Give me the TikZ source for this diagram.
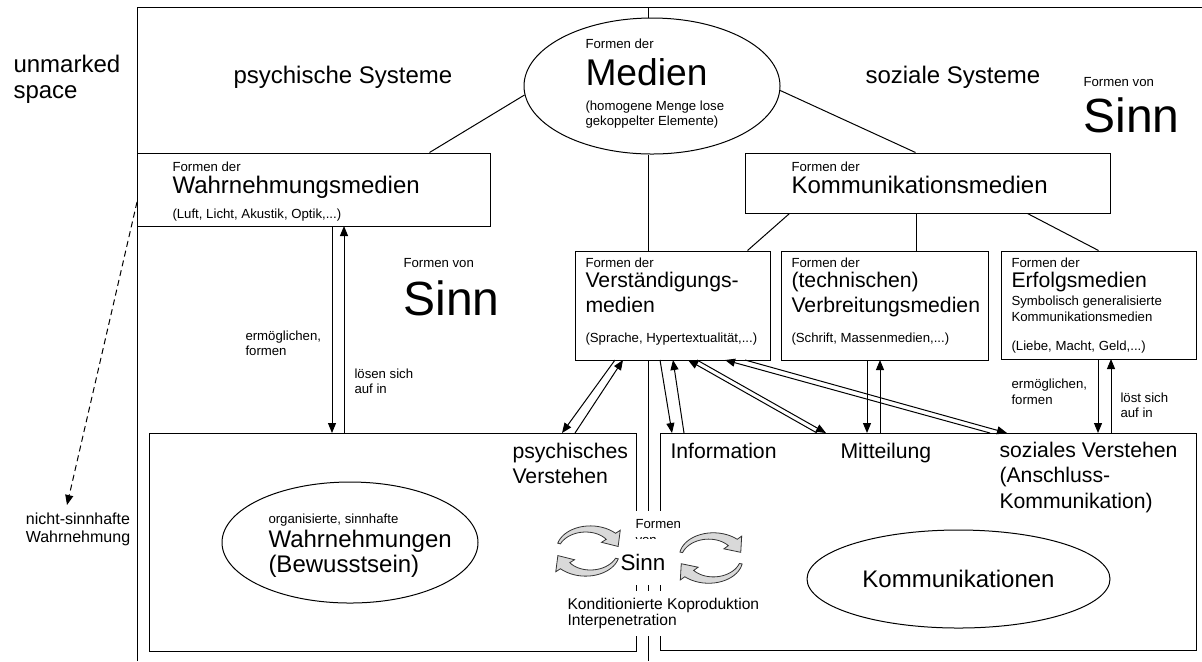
\documentclass[tikz,border=0pt]{standalone}
\usepackage{fontspec}
\setmainfont{Liberation Sans}
\usepackage{tikz}
\usetikzlibrary{arrows.meta,shapes}
\tikzstyle{box}=[draw,rectangle,inner sep=0pt]
\tikzstyle{oval}=[draw,ellipse,inner sep=0pt]
\tikzstyle{txt}=[anchor=base west,inner sep=0pt,align=left]
\tikzstyle{cover}=[anchor=base west,align=left,fill=white,inner sep=4pt]
\tikzstyle{fsmall}=[font=\fontsize{6.6}{7.5}\selectfont]
\tikzstyle{fmid}=[font=\fontsize{10.6}{12.4}\selectfont]
\tikzstyle{fbig}=[font=\fontsize{12}{12.75}\selectfont]
\tikzstyle{fmedien}=[font=\fontsize{18.6}{20}\selectfont]
\tikzstyle{fsinn}=[font=\fontsize{24}{26}\selectfont]
\tikzstyle{arr}=[draw,-{Triangle[length=5pt,width=4pt]}]
\tikzstyle{cyc}=[draw=black!80,fill=black!15,line width=0.4pt]
% curved block arrow, getting wider towards its head: centre, start angle, end angle
\newcommand{\turnarrow}[3]{%
  \begin{scope}[shift={#1},xscale=1.4]
    \filldraw[cyc] plot[domain=#2:#3,samples=20] (\x:{23+3.5*(\x-#2)/(#3-#2)})
      -- (#3:31) -- (#3+30:22) -- (#3:13)
      -- plot[domain=#3:#2,samples=20] (\x:{21-3.5*(\x-#2)/(#3-#2)}) -- cycle;
  \end{scope}}

\begin{document}
\begin{tikzpicture}[x=0.5pt,y=-0.5pt,line width=0.5pt]
    \useasboundingbox (0,0) rectangle (1202,661);
    % frame of the two kinds of systems
    \coordinate (tl) at (137,7);
    \coordinate (tr) at (1202,7);
    \coordinate (bl) at (137,661);
    \coordinate (top) at (648,7);
    \coordinate (bot) at (648,661);
    \draw (bl) -- (tl) -- (tr);

    % media
    \node[oval,minimum width=128pt,minimum height=68pt] (medien) at (652,86) {};
    \foreach \pos/\name/\w/\h in {{(313.5,189.5)/wahr/176.5/36.5}, {(927.5,183)/komm/182.5/30},
        {(672.5,305.5)/verst/97.5/54.5}, {(884.5,305.5)/verbr/103.5/54.5}, {(1098.5,305)/erfolg/97.5/54},
        {(392.5,542)/psy/243.5/109}, {(928,541.5)/soz/268/108.5}}
        \node[box,minimum width=\w pt,minimum height=\h pt] (\name) at \pos {};
    \node[oval,minimum width=128pt,minimum height=60.5pt] (bewusst) at (350,542.5) {};
    \node[oval,fbig,minimum width=151.5pt,minimum height=49pt] (kommunik) at (958.5,579) {Kommunikationen};

    % tree lines
    \draw (medien.184) -- ([xshift=58pt]wahr.north);
    \draw (medien.358) -- ([xshift=-6pt]komm.north);
    \draw (top) -- (top |- medien.north);
    \draw (top |- medien.south) -- (top |- verst.north);
    \draw (top |- verst.south) -- (bot);
    \draw ([xshift=22.5pt]komm.south west) -- ([xshift=-11.5pt]verst.north east);
    \coordinate (vb) at ([xshift=15.75pt]verbr.north);
    \draw (vb) -- (vb |- komm.south);
    \draw ([xshift=-41.5pt]komm.south east) -- (erfolg.north);

    % arrow ends
    \foreach \pos/\name in {{(332,226)/w1}, {(332,433)/w1b}, {(344,226)/w2}, {(344,433)/w2b},
        {(615,360)/v1}, {(562,433)/p1}, {(575,433)/p2}, {(623,360)/v2},
        {(660,360)/v3}, {(672,433)/s1}, {(684,433)/s2}, {(673,360)/v4},
        {(697,360)/v5}, {(826,433)/s3}, {(817,433)/s4}, {(688,360)/v6},
        {(745,360)/v7}, {(1007,433)/s5}, {(990,433)/s6}, {(725,360)/v8},
        {(867,360)/m1}, {(867,433)/m1b}, {(880,360)/m2}, {(880,433)/m2b},
        {(1098,359)/e1}, {(1098,433)/e1b}, {(1111,359)/e2}, {(1111,433)/e2b}, {(137,202)/dstart}}
        \path \pos coordinate (\name);
    % arrows between media and operations
    \foreach \src/\dst in {w1/w1b, w2b/w2, v1/p1, p2/v2, v3/s1, s2/v4, v5/s3, s4/v6, v7/s5, s6/v8, m1/m1b, m2b/m2, e1/e1b, e2b/e2}
        \draw[arr] (\src) -- (\dst);

    % texts (multi-line ones sit on the baseline of their last line)
    \node[txt,font=\fontsize{12}{13}\selectfont] (unmarked) at (13,98) {unmarked\\space};
    \node[txt,fbig] (psysys) at (233,83) {psychische Systeme};
    \node[txt,fbig] (sozsys) at (865,83) {soziale Systeme};
    \node[txt,fsmall] (sinnTopF) at (1083,86) {Formen von};
    \node[txt,fsinn] (sinnTop) at (1083,132) {Sinn};
    \node[txt,fsmall] (sinnMidF) at (403,267) {Formen von};
    \node[txt,fsinn] (sinnMid) at (403,315) {Sinn};

    \node[txt,fsmall] (medienF) at (585,48) {Formen der};
    \node[txt,fmedien] (medienT) at (585,85) {Medien};
    \node[txt,fsmall] (medienE) at (585,125) {(homogene Menge lose\\gekoppelter Elemente)};

    \node[txt,fsmall] (wahrF) at (172,171) {Formen der};
    \node[txt,fbig] (wahrT) at (172,193) {Wahrnehmungsmedien};
    \node[txt,fsmall] (wahrE) at (172,218) {(Luft, Licht, Akustik, Optik,...)};
    \node[txt,fsmall] (kommF) at (791,171) {Formen der};
    \node[txt,fbig] (kommT) at (791,193) {Kommunikationsmedien};

    \node[txt,fsmall] (verstF) at (585,267) {Formen der};
    \node[txt,fmid] (verstT) at (585,312) {Verständigungs-\\medien};
    \node[txt,fsmall] (verstE) at (585,342) {(Sprache, Hypertextualität,...)};
    \node[txt,fsmall] (verbrF) at (791,267) {Formen der};
    \node[txt,fmid] (verbrT) at (791,312) {(technischen)\\Verbreitungsmedien};
    \node[txt,fsmall] (verbrE) at (791,342) {(Schrift, Massenmedien,...)};
    \node[txt,fsmall] (erfolgF) at (1011,267) {Formen der};
    \node[txt,fmid] (erfolgT) at (1011,287) {Erfolgsmedien};
    \node[txt,font=\fontsize{6.6}{8}\selectfont] (erfolgS) at (1011,321) {Symbolisch generalisierte\\Kommunikationsmedien};
    \node[txt,fsmall] (erfolgE) at (1011,350) {(Liebe, Macht, Geld,...)};

    \node[txt,fsmall] (ermL) at (245,355) {ermöglichen,\\formen};
    \node[txt,fsmall] (loesL) at (354,393) {lösen sich\\auf in};
    \node[txt,font=\fontsize{6.6}{8}\selectfont] (ermR) at (1011,404) {ermöglichen,\\formen};
    \node[txt,fsmall] (loesR) at (1120,417) {löst sich\\auf in};

    \node[align=center,inner sep=2pt,anchor=north,font=\fontsize{8}{9}\selectfont] (nicht) at (78,508) {nicht-sinnhafte\\Wahrnehmung};
    \draw[arr,dash pattern=on 3pt off 2pt] (dstart) -- ([xshift=-5.5pt,yshift=1.5pt]nicht.north);

    \node[txt,fsmall] (bewF) at (268,523) {organisierte, sinnhafte};
    \node[txt,font=\fontsize{12}{12.5}\selectfont] (bewT) at (268,572) {Wahrnehmungen\\(Bewusstsein)};
    \node[txt,fmid] (psyV) at (512,483) {psychisches\\Verstehen};
    \node[txt,fmid] (info) at (670,458) {Information};
    \node[txt,fmid] (mitt) at (840,458) {Mitteilung};
    \node[txt,font=\fontsize{10.6}{12.6}\selectfont] (sozV) at (999,508) {soziales Verstehen\\(Anschluss-\\Kommunikation)};

    % meaning in the middle
    \node[cover,font=\fontsize{6.6}{8}\selectfont] (formenC) at (627,544) {Formen\\von};
    \node[cover,font=\fontsize{11.2}{12}\selectfont,inner xsep=3pt,inner ysep=7.5pt] (sinnC) at (614,570) {Sinn};
    \node[cover,font=\fontsize{7.8}{7.6}\selectfont] (kond) at (559,625) {Konditionierte Koproduktion\\Interpenetration};
    \turnarrow{(588,551)}{200}{318}
    \turnarrow{(588,551)}{20}{138}
    \turnarrow{(711,558)}{195}{315}
    \turnarrow{(711,558)}{15}{135}
\end{tikzpicture}
\end{document}
